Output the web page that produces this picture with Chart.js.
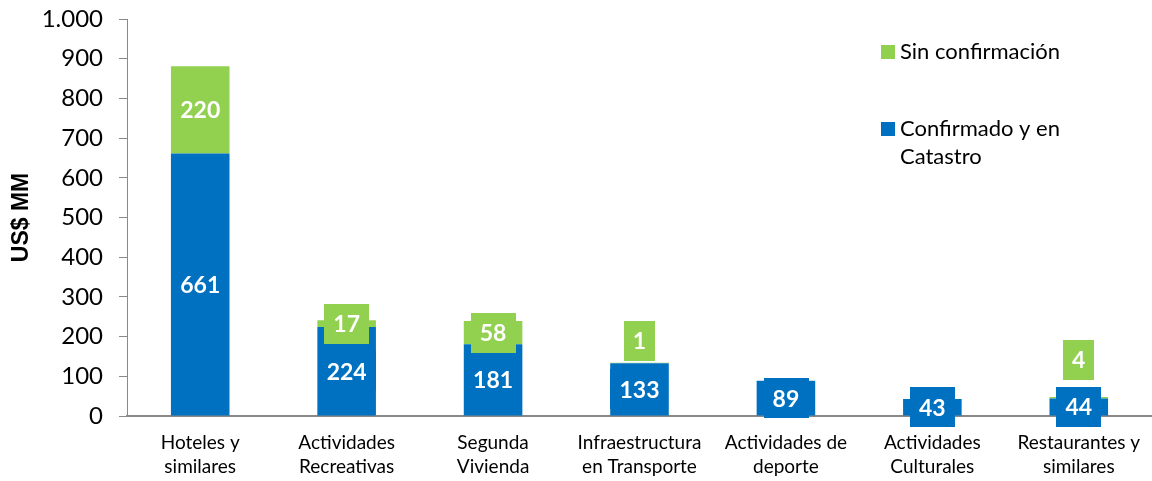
<!DOCTYPE html>
<html><head><meta charset="utf-8">
<script src="https://cdn.jsdelivr.net/npm/chart.js@4/dist/chart.umd.min.js"></script>
<style>html,body{margin:0;padding:0;background:#fff;}#wrap{width:1152px;height:481px;}</style>
</head><body><div id="wrap"><canvas id="c" width="1152" height="481"></canvas></div>
<script>
const categories = [["Hoteles y","similares"],["Actividades","Recreativas"],["Segunda","Vivienda"],["Infraestructura","en Transporte"],["Actividades de","deporte"],["Actividades","Culturales"],["Restaurantes y","similares"]];
const confirmado = [661, 224, 181, 133, 89, 43, 44];
const sinConfirmacion = [220, 17, 58, 1, 0, 0, 4];
const seriesNames = ["Confirmado y en Catastro", "Sin confirmación"];
const yTicks = [0,100,200,300,400,500,600,700,800,900,1000];

const BLUE = '#0070C0', GREEN = '#92D050', AXIS = '#898989';
const FONT = 'Lato, "Open Sans", sans-serif';

function fmt(v){ return String(v).replace(/\B(?=(\d{3})+(?!\d))/g, '.'); }

const labelPlugin = {
  id: 'boxLabels',
  afterDatasetsDraw(chart, args, opts) {
    const ctx = chart.ctx;
    ctx.save();
    ctx.font = 'bold 23px ' + FONT;
    ctx.textAlign = 'center';
    ctx.textBaseline = 'middle';
    chart.data.datasets.forEach((ds, di) => {
      const meta = chart.getDatasetMeta(di);
      const offs = (opts.offsets && opts.offsets[di]) || [];
      meta.data.forEach((bar, i) => {
        const v = ds.data[i];
        if (!v) return;
        const cy = (bar.y + bar.base) / 2 + (offs[i] || 0);
        const txt = String(v);
        const w = ctx.measureText(txt).width + 18;
        const h = 40;
        ctx.fillStyle = ds.backgroundColor;
        ctx.fillRect(Math.round(bar.x - w/2), Math.round(cy - h/2), Math.round(w), h);
        ctx.fillStyle = '#fff';
        ctx.fillText(txt, bar.x, cy + 1);
      });
    });
    ctx.restore();
  }
};

const legendPlugin = {
  id: 'sideLegend',
  afterDraw(chart, args, opts) {
    const ctx = chart.ctx;
    ctx.save();
    ctx.font = '22px ' + FONT;
    ctx.textBaseline = 'middle';
    ctx.textAlign = 'left';
    opts.items.forEach(it => {
      const ds = chart.data.datasets[it.dataset];
      ctx.fillStyle = ds.backgroundColor;
      ctx.fillRect(opts.x, it.y, 14, 14);
      ctx.fillStyle = '#000';
      it.lines.forEach((ln, k) => ctx.fillText(ln, opts.x + 19, it.y + 7 + k * 28));
    });
    ctx.restore();
  }
};

new Chart(document.getElementById('c'), {
  type: 'bar',
  data: {
    labels: categories,
    datasets: [
      { label: seriesNames[0], data: confirmado, backgroundColor: BLUE, stack: 's' },
      { label: seriesNames[1], data: sinConfirmacion, backgroundColor: GREEN, stack: 's' }
    ]
  },
  plugins: [labelPlugin, legendPlugin],
  options: {
    responsive: false,
    animation: false,
    layout: { padding: { top: 19, right: 0, bottom: 0, left: 0 } },
    categoryPercentage: 1.0,
    barPercentage: 0.4,
    plugins: {
      legend: { display: false },
      tooltip: { enabled: false },
      boxLabels: { offsets: [[0,0,0,0,0,0,0],[0,0,0,-22,0,0,-38]] },
      sideLegend: { x: 881, items: [
        { dataset: 1, y: 45, lines: ['Sin confirmación'] },
        { dataset: 0, y: 122, lines: ['Confirmado y en', 'Catastro'] }
      ] }
    },
    scales: {
      x: {
        stacked: true,
        grid: { display: false },
        border: { display: true, color: AXIS, width: 2 },
        ticks: { color: '#000', font: { family: FONT, size: 19, lineHeight: 1.25 }, maxRotation: 0, autoSkip: false, padding: 7 },
        afterFit(s) { s.height = 65; s.paddingLeft = 0; s.paddingRight = 0; }
      },
      y: {
        stacked: true,
        min: 0, max: 1000,
        afterBuildTicks(s) { s.ticks = yTicks.map(v => ({ value: v })); },
        grid: { display: true, drawOnChartArea: false, drawTicks: true, tickLength: 8, color: AXIS },
        border: { display: true, color: AXIS, width: 1 },
        ticks: { color: '#000', font: { family: FONT, size: 24 }, padding: 16, callback: v => fmt(v) },
        title: { display: true, text: 'US$ MM', color: '#000', font: { family: '"Liberation Sans", Arial, sans-serif', size: 23, weight: 'bold' }, padding: { top: 8, bottom: 0 } },
        afterFit(s) { s.width = 127; s.paddingTop = 0; s.paddingBottom = 0; }
      }
    }
  }
});
</script></body></html>
